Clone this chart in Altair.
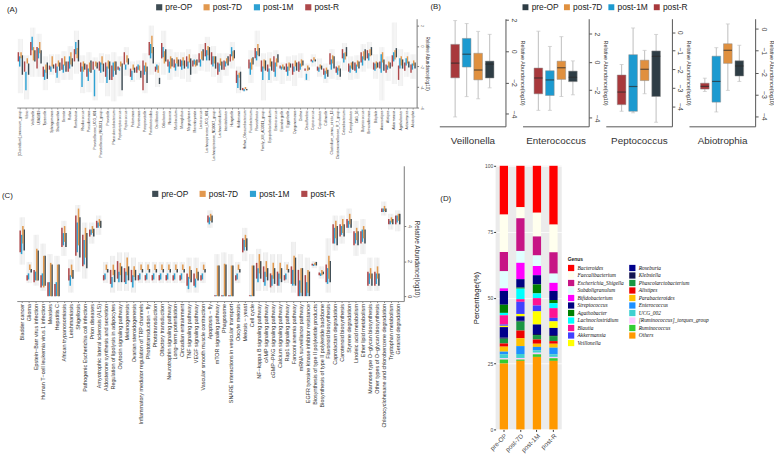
import altair as alt
import pandas as pd

GROUPS = ["pre-OP", "post-7D", "post-1M", "post-R"]
GROUP_COLORS = ["#2E3D45", "#E0903F", "#1C9AD0", "#A8393C"]
BOX_ORDER = ["post-R", "post-1M", "post-7D", "pre-OP"]

# ---------------- Panel A: genus level (log10 relative abundance) ----------------
A_GENERA = [
    "[Clostridium]_innocuum_group", "Vibrio", "Veillonella", "UBA1819", "Tyzzerella",
    "Sphingomonas", "Shuttleworthia", "Serratia", "Rothia", "Romboutsia",
    "Rhodococcus", "Pseudomonas", "Prevotellaceae_UCG_001", "Prevotellaceae_NK3B31_group", "Prevotella",
    "Phascolarctobacterium", "Peptostreptococcus", "Peptococcus", "Pelomonas", "Parvimonas",
    "Paraprevotella", "Parabacteroides", "Oscillibacter", "Odoribacter", "Neisseria",
    "Muribaculum", "Monoglobus", "Megasphaera", "Marvinbryantia", "Lactococcus",
    "Lachnospiraceae_UCG_001", "Lachnospiraceae_ND3007_group", "Lachnoclostridium", "Intestinibacter", "Hungatella",
    "Holdemania", "Hafnia_Obesumbacterium", "Fusobacterium", "Flavonifractor", "Family_XIII_AD3011_group",
    "Erysipelatoclostridium", "Enterococcus", "Eisenbergiella", "Eggerthella", "Dysgonomonas",
    "Dielma", "Desulfovibrio", "Coprococcus", "Coprobacter", "Collinsella",
    "Clostridium_sensu_stricto_13", "Christensenellaceae_R_7_group", "Catenibacterium", "Campylobacter", "CAG_56",
    "Butyricicoccus", "Brevundimonas", "Bilophila", "Anaerostipes", "Alistipes",
    "Akkermansia", "Agathobacter", "Actinomyces", "Abiotrophia",
]
A_POSTR_Q1 = [-1.5, -2.5, -0.9, -2.2, -3.0, -2.3, -2.6, -2.3, -2.5, -1.5,
              -2.5, -3.0, -2.3, -2.4, -3.0, -3.3, -2.3, -1.8, -3.0, -2.6,
              -4.3, -0.9, -2.5, -1.2, -2.0, -2.1, -2.0, -2.0, -2.0, -1.6,
              -1.0, -1.8, -2.8, -2.3, -1.5, -3.6, -4.3, -2.2, -1.2, -2.5,
              -2.5, -2.5, -2.2, -2.5, -2.8, -2.5, -2.4, -1.5, -2.4, -2.8,
              -1.8, -2.6, -1.2, -2.5, -2.4, -1.6, -1.2, -2.3, -2.2, -2.6,
              -2.0, -3.3, -2.4, -2.6]
A_POSTR_Q3 = [-0.6, -1.5, 0.4, -0.1, -2.0, -1.9, -1.7, -1.2, -1.5, -0.3,
              -1.6, -1.8, -1.5, -1.5, -1.6, -1.9, -2.0, -0.6, -2.2, -2.0,
              -1.4, 0.4, -2.0, 0.3, -1.3, -1.3, -1.3, -1.0, -1.4, -0.7,
              0.3, -0.6, -1.6, -1.4, -0.8, -2.4, -4.1, -1.3, -0.2, -1.4,
              -1.8, -1.0, -1.9, -1.7, -1.7, -1.5, -2.2, -1.3, -2.0, -2.2,
              -0.7, -2.0, -0.3, -1.7, -1.6, -0.6, -0.4, -1.6, -1.5, -1.8,
              -0.9, -1.9, -1.6, -1.8]
A_POST1M_Q1 = [-2.0, -4.3, -0.4, -1.2, -3.3, -2.5, -3.1, -2.6, -2.2, -0.8,
               -4.0, -3.4, -4.9, -2.6, -3.6, -3.0, -2.4, -2.3, -3.3, -2.3,
               -2.8, -1.2, -2.3, -1.1, -2.6, -2.4, -2.3, -2.2, -1.8, -2.0,
               -1.4, -2.0, -2.5, -2.0, -1.0, -4.1, -4.4, -2.8, -1.4, -3.3,
               -3.3, -3.0, -2.3, -2.9, -2.5, -2.3, -3.3, -1.6, -2.5, -3.2,
               -2.3, -2.8, -1.6, -2.6, -2.6, -1.9, -1.4, -2.4, -2.6, -2.3,
               -1.5, -2.2, -1.9, -2.3]
A_POST1M_Q3 = [-1.0, -2.5, 0.9, -0.2, -2.3, -2.0, -2.0, -1.8, -1.0, 0.4,
               -2.0, -2.2, -2.3, -1.6, -2.0, -1.6, -2.1, -1.8, -2.4, -1.8,
               -1.9, 0.2, -1.8, -0.1, -1.5, -1.7, -1.4, -1.5, -1.3, -1.3,
               -0.4, -1.0, -1.7, -1.5, -0.1, -2.8, -4.2, -1.6, -0.5, -2.0,
               -2.2, -1.6, -2.0, -2.0, -2.0, -1.7, -2.7, -1.4, -2.1, -2.4,
               -1.3, -2.1, -0.7, -1.9, -1.8, -1.0, -0.7, -1.7, -0.8, -1.9,
               -0.6, -1.2, -1.2, -1.7]
A_POST7D_Q1 = [-1.2, -1.7, -1.4, -0.7, -2.6, -2.0, -2.0, -1.9, -1.8, -1.2,
               -2.5, -2.5, -2.0, -1.8, -2.2, -2.4, -2.0, -1.6, -2.3, -2.4,
               -2.5, -0.7, -2.6, -1.7, -2.2, -1.7, -1.9, -1.6, -2.0, -1.3,
               -0.9, -1.7, -1.9, -1.7, -1.4, -3.1, -4.2, -2.3, -0.9, -2.2,
               -2.0, -2.0, -2.2, -2.4, -2.0, -2.0, -2.4, -1.4, -2.2, -2.7,
               -1.7, -2.4, -1.3, -2.2, -2.0, -1.3, -1.0, -2.2, -1.6, -2.1,
               -1.3, -1.9, -1.7, -1.9]
A_POST7D_Q3 = [-0.6, -1.2, -0.1, 0.4, -1.8, -1.0, -1.4, -1.0, -0.6, -0.2,
               -1.5, -1.6, -1.5, -1.0, -1.4, -1.5, -1.5, -0.9, -1.8, -1.9,
               -1.6, 1.0, -1.9, -0.5, -1.0, -1.1, -1.1, -0.8, -1.4, -0.5,
               0.0, -1.0, -1.2, -1.2, -0.5, -2.6, -4.0, -1.2, 0.2, -1.3,
               -1.2, -1.2, -1.8, -1.6, -1.4, -1.3, -1.9, -1.1, -1.8, -2.1,
               -0.9, -1.9, -0.6, -1.6, -1.4, -0.5, -0.3, -1.5, -0.6, -1.5,
               -0.4, -1.0, -1.0, -1.4]
A_PREOP_Q1 = [-2.8, -2.8, -1.5, -1.7, -3.2, -2.2, -2.4, -2.5, -2.0, -1.5,
              -2.3, -2.6, -2.2, -2.5, -3.3, -2.8, -4.3, -1.8, -2.6, -3.1,
              -3.6, -1.7, -3.7, -1.5, -2.0, -2.0, -2.2, -2.8, -1.9, -1.4,
              -1.4, -2.2, -2.3, -1.9, -1.2, -4.3, -4.3, -1.8, -1.0, -2.4,
              -2.4, -1.6, -2.3, -2.1, -2.4, -1.9, -2.3, -1.5, -2.3, -3.0,
              -2.2, -3.0, -1.0, -2.3, -2.2, -1.4, -0.9, -2.1, -2.4, -2.2,
              -1.1, -2.2, -2.1, -2.2]
A_PREOP_Q3 = [-0.9, -1.7, -0.4, -0.4, -1.6, -1.8, -1.6, -1.5, -1.2, 0.6,
              -1.7, -1.4, -1.6, -1.7, -1.5, -1.5, -1.7, -1.2, -2.1, -2.4,
              -2.0, -0.1, -3.1, -0.3, -1.2, -1.3, -1.4, -1.2, -1.3, -0.3,
              -0.1, -1.0, -1.5, -1.0, -0.4, -2.5, -4.2, -1.1, -0.2, -1.4,
              -1.5, -0.8, -2.0, -1.7, -1.6, -1.4, -2.1, -1.3, -1.9, -2.3,
              -1.0, -2.2, -0.1, -1.5, -1.5, -0.3, -0.1, -1.6, -1.3, -1.6,
              -0.2, -1.3, -1.5, -1.6]
A_LO = [-4.6, -5.2, -3.0, -3.0, -4.3, -2.8, -3.6, -3.3, -3.3, -2.7,
        -4.6, -4.5, -5.3, -3.6, -4.9, -5.4, -4.9, -2.9, -3.5, -3.3,
        -4.6, -2.8, -4.0, -2.8, -3.3, -3.0, -3.2, -3.5, -2.7, -2.4,
        -2.5, -3.0, -3.6, -2.9, -2.2, -4.6, -4.4, -3.6, -2.0, -5.3,
        -3.6, -3.4, -3.7, -3.4, -3.9, -3.1, -3.4, -2.0, -3.0, -3.6,
        -3.2, -3.3, -2.4, -3.3, -3.2, -2.5, -2.2, -3.2, -5.3, -3.4,
        -3.7, -3.9, -3.0, -3.2]
A_HI = [0.7, -0.9, 1.8, 1.2, -1.0, -0.8, -0.8, -0.5, 0.0, 1.5,
        -0.9, -0.6, -1.1, -0.7, -0.8, -0.6, -1.0, -0.1, -1.5, -1.4,
        -0.7, 2.0, -1.6, 1.5, -0.3, -0.6, -0.6, -0.3, -0.8, 0.2,
        0.9, 0.0, -0.7, -0.7, 0.4, -2.0, -4.0, -0.4, 1.5, -0.7,
        -0.6, -0.4, -1.6, -1.0, -0.9, -0.7, -1.7, -0.8, -1.2, -1.7,
        -0.3, -1.5, 0.3, -1.0, -0.9, 0.2, 0.4, -0.8, -0.1, -1.0,
        2.3, -0.3, -0.6, -0.8]

# ---------------- Panel B: four genera ----------------
B_GENERA = ["Veillonella", "Enterococcus", "Peptococcus", "Abiotrophia"]
B_DOMAINS = [[-4.8, 2.08], [-4.6, 3.08], [-5.08, 0.73], [-4.47, 0.47]]
B_TICKS = [[-4, -2, 0, 2], [-4, -2, 0, 2], [-4, -3, -2, -1, 0], [-4, -3, -2, -1, 0]]
B_LO = {"post-R": [-4.2, -3.46, -4.27, -2.87], "post-1M": [-2.9, -3.46, -4.35, -3.81],
        "post-7D": [-3.04, -2.47, -3.32, -2.82], "pre-OP": [-2.34, -2.35, -4.86, -2.41]}
B_Q1 = {"post-R": [-1.7, -2.28, -3.91, -2.76], "post-1M": [-1.01, -2.4, -4.27, -3.36],
        "post-7D": [-1.83, -1.25, -2.61, -1.58], "pre-OP": [-1.71, -1.41, -3.47, -2.16]}
B_MED = {"post-R": [-0.76, -1.15, -3.23, -2.64], "post-1M": [-0.19, -1.29, -2.93, -2.41],
         "post-7D": [-1.2, -0.42, -2.0, -0.98], "pre-OP": [-0.82, -1.1, -1.3, -1.7]}
B_Q3 = {"post-R": [0.44, -0.44, -2.31, -2.49], "post-1M": [0.82, -0.63, -1.21, -1.25],
        "post-7D": [-0.13, 0.05, -1.51, -0.68], "pre-OP": [-0.63, -0.66, -1.01, -1.46]}
B_HI = {"post-R": [1.96, 2.19, -1.74, -2.26], "post-1M": [1.77, 1.1, 0.23, -0.86],
        "post-7D": [1.27, 1.8, -0.98, 0.23], "pre-OP": [1.08, 0.07, -0.12, -0.75]}

# ---------------- Panel C: KEGG pathways ----------------
C_PATHS = [
    "Bladder cancer", "Glioma", "Epstein\u2212Barr virus infection",
    "Human T\u2212cell leukemia virus 1 infection", "Measles", "Hepatitis C",
    "African trypanosomiasis", "Leishmaniasis", "Shigellosis",
    "Pathogenic Escherichia coli infection", "Prion diseases",
    "Amyotrophic lateral sclerosis (ALS)", "Aldosterone synthesis and secretion",
    "Regulation of lipolysis in adipocytes", "Oxytocin signaling pathway", "Melanogenesis",
    "Ovarian steroidogenesis", "Inflammatory mediator regulation of TRP channels",
    "Phototransduction \u2212 fly", "Phototransduction", "Olfactory transduction",
    "Neurotrophin signaling pathway", "Long\u2212term potentiation", "Circadian entrainment",
    "TNF signaling pathway", "VEGF signaling pathway", "Vascular smooth muscle contraction",
    "Apoptosis \u2212 fly", "mTOR signaling pathway", "Phagosome",
    "SNARE interactions in vesicular transport", "Oocyte meiosis", "Meiosis \u2212 yeast",
    "Cell cycle", "NF\u2212kappa B signaling pathway", "cAMP signaling pathway",
    "cGMP\u2212PKG signaling pathway", "Calcium signaling pathway", "Rap1 signaling pathway",
    "Fanconi anemia pathway", "mRNA surveillance pathway",
    "EGFR tyrosine kinase inhibitor resistance", "Biosynthesis of type II polyketide products",
    "Biosynthesis of type II polyketide backbone", "Flavonoid biosynthesis",
    "Caprolactam degradation", "Carotenoid biosynthesis", "Styrene degradation",
    "Linoleic acid metabolism", "Ether lipid metabolism", "Mannose type O\u2212glycan biosynthesis",
    "Other types of O\u2212glycan biosynthesis", "Chlorocyclohexane and chlorobenzene degradation",
    "Tryptophan metabolism", "Geraniol degradation",
]
C_POSTR_Q1 = [2.5, 0.9, 0.8, 0.5, 0.0, 0.0, 2.8, 0.9, 2.3, 1.7,
              3.4, 3.9, 0.9, 0.7, 1.0, 0.8, 0.8, 0.9, 0.9, 0.9,
              0.9, 0.9, 0.9, 0.9, 0.6, 0.6, 0.9, 4.2, 0.0, 0.0,
              0.0, 0.9, 2.5, 0.0, 1.0, 0.8, 0.5, 0.6, 0.9, 0.7,
              0.0, 0.0, 1.75, 1.2, 0.8, 3.0, 3.4, 3.9, 2.9, 3.0,
              0.6, 0.6, 4.8, 4.1, 4.1]
C_POSTR_Q3 = [3.75, 1.2, 1.5, 1.2, 0.8, 0.7, 3.9, 1.6, 4.6, 3.5,
              3.8, 4.3, 1.2, 1.5, 2.0, 1.6, 1.5, 1.2, 1.2, 1.2,
              1.2, 1.2, 1.2, 1.2, 1.3, 1.3, 1.2, 4.6, 0.05, 0.05,
              0.05, 1.2, 3.3, 0.05, 1.9, 1.7, 1.3, 1.4, 1.2, 1.7,
              1.5, 1.2, 1.85, 1.35, 1.8, 4.1, 4.1, 4.4, 3.7, 3.7,
              1.4, 1.4, 5.0, 4.4, 4.6]
C_POST1M_Q1 = [2.4, 0.95, 0.9, 0.6, 0.0, 0.0, 2.9, 0.6, 2.5, 1.8,
               3.5, 3.9, 0.95, 0.5, 0.8, 0.7, 0.5, 0.95, 0.95, 0.95,
               0.95, 0.95, 0.95, 0.95, 0.4, 0.5, 0.95, 4.1, 0.0, 0.0,
               0.0, 0.95, 2.6, 0.0, 0.8, 0.6, 0.6, 0.6, 0.95, 0.6,
               0.0, 0.0, 1.72, 1.15, 0.7, 3.0, 3.5, 3.9, 3.0, 3.1,
               0.7, 0.7, 4.8, 4.1, 4.2]
C_POST1M_Q3 = [3.5, 1.3, 1.4, 1.3, 0.8, 0.8, 3.6, 1.2, 4.2, 3.2,
               3.8, 4.2, 1.3, 1.1, 1.4, 1.4, 1.2, 1.3, 1.3, 1.3,
               1.3, 1.3, 1.3, 1.3, 1.1, 1.0, 1.3, 4.5, 0.05, 0.05,
               0.05, 1.3, 3.2, 0.05, 1.6, 1.4, 1.2, 1.3, 1.3, 1.5,
               0.9, 0.8, 1.82, 1.3, 1.6, 3.9, 4.0, 4.3, 3.6, 3.8,
               1.3, 1.3, 5.0, 4.3, 4.6]
C_POST7D_Q1 = [3.0, 1.5, 0.9, 0.5, 0.0, 0.0, 3.1, 1.1, 2.9, 2.2,
               3.6, 4.0, 1.5, 1.2, 1.2, 1.2, 1.1, 1.5, 1.5, 1.5,
               1.5, 1.5, 1.5, 1.5, 1.0, 1.0, 1.5, 4.3, 0.0, 0.0,
               0.0, 1.5, 2.8, 0.0, 1.3, 1.1, 1.0, 1.0, 1.5, 0.7,
               0.2, 0.2, 1.78, 1.2, 1.0, 3.3, 3.6, 4.1, 3.2, 3.3,
               1.0, 1.0, 4.85, 4.2, 4.3]
C_POST7D_Q3 = [4.0, 1.8, 2.7, 2.3, 1.9, 1.8, 4.0, 1.8, 5.0, 3.9,
               4.0, 4.4, 1.8, 1.8, 1.9, 2.2, 1.7, 1.8, 1.8, 1.8,
               1.8, 1.8, 1.8, 1.8, 1.7, 1.6, 1.8, 4.7, 1.75, 1.85,
               1.75, 1.8, 3.5, 1.75, 2.4, 2.0, 1.9, 1.9, 1.8, 2.3,
               1.6, 1.5, 1.9, 1.5, 2.3, 4.3, 4.4, 4.7, 3.9, 4.0,
               1.6, 1.7, 5.15, 4.5, 4.7]
C_PREOP_Q1 = [2.6, 1.35, 0.9, 0.6, 0.0, 0.0, 2.8, 1.0, 2.2, 1.6,
              3.4, 3.9, 1.35, 0.8, 0.8, 0.9, 0.9, 1.35, 1.35, 1.35,
              1.35, 1.35, 1.35, 1.35, 0.8, 0.9, 1.35, 4.2, 0.0, 0.0,
              0.0, 1.35, 2.6, 0.0, 1.0, 0.9, 0.7, 0.8, 1.35, 0.6,
              0.0, 0.0, 1.75, 1.25, 0.8, 2.9, 3.4, 3.9, 2.9, 3.0,
              0.6, 0.6, 4.8, 4.1, 4.1]
C_PREOP_Q3 = [3.8, 1.55, 2.6, 2.3, 1.8, 1.8, 3.6, 1.5, 4.5, 3.6,
              3.85, 4.3, 1.55, 1.5, 1.7, 1.7, 1.5, 1.55, 1.55, 1.55,
              1.55, 1.55, 1.55, 1.55, 1.5, 1.4, 1.55, 4.6, 1.75, 1.8,
              1.75, 1.55, 3.3, 1.75, 2.0, 1.6, 1.6, 1.6, 1.55, 2.2,
              1.6, 1.4, 1.95, 1.4, 2.0, 4.0, 4.1, 4.4, 3.7, 3.8,
              1.3, 1.3, 5.0, 4.4, 4.7]
C_LO = [1.8, 0.75, 0.6, 0.3, 0.0, 0.0, 2.3, 0.2, 1.4, 1.0,
        3.0, 3.5, 0.75, 0.2, 0.3, 0.3, 0.2, 0.75, 0.75, 0.75,
        0.75, 0.75, 0.75, 0.75, 0.2, 0.2, 0.75, 3.9, 0.0, 0.0,
        0.0, 0.75, 2.0, 0.0, 0.3, 0.3, 0.2, 0.2, 0.75, 0.2,
        0.0, 0.0, 1.6, 1.0, 0.2, 2.6, 3.0, 3.6, 2.3, 2.4,
        0.3, 0.3, 4.6, 3.8, 3.7]
C_HI = [4.5, 1.95, 3.5, 3.0, 2.4, 2.3, 4.3, 2.1, 5.2, 4.2,
        4.2, 4.6, 1.95, 2.3, 2.5, 2.5, 2.2, 1.95, 1.95, 1.95,
        1.95, 1.95, 1.95, 1.95, 2.2, 2.2, 1.95, 4.9, 2.4, 2.5,
        2.4, 1.95, 3.9, 2.4, 2.7, 2.5, 2.4, 2.4, 1.95, 3.1,
        2.4, 2.2, 2.0, 1.7, 3.3, 4.6, 4.6, 5.0, 4.3, 4.4,
        2.2, 2.2, 5.4, 4.7, 4.9]

# ---------------- Panel D: genus composition (%) ----------------
D_SAMPLES = ["pre-OP", "post-7D", "post-1M", "post-R"]
D_GENUS = ["Bacteroides", "Faecalibacterium", "Escherichia_Shigella", "Subdoligranulum",
           "Bifidobacterium", "Streptococcus", "Agathobacter", "Lachnoclostridium", "Blautia",
           "Akkermansia", "Veillonella", "Roseburia", "Klebsiella", "Phascolarctobacterium",
           "Alistipes", "Parabacteroides", "Enterococcus", "UCG_002",
           "[Ruminococcus]_torques_group", "Ruminococcus", "Others"]
D_COLORS = ["#FF0000", "#FFFFEE", "#C71585", "#E0FFFF", "#FF00FF", "#000080", "#008000",
            "#00FFFF", "#FF1493", "#4040FF", "#FFFF00", "#00008B", "#141452", "#1A9641",
            "#EE0000", "#FFC000", "#1E90FF", "#40D0D0", "#FFCCFF", "#33CC33", "#FF9900"]
D_PREOP = [18.5, 14.2, 7.3, 6.5, 1.0, 5.2, 3.1, 0.9, 3.5, 0.5, 0.5, 4.0, 0.4, 1.8, 1.2, 1.9, 1.0, 1.5, 0.5, 1.5, 25.0]
D_POST7D = [15.7, 4.2, 12.4, 4.5, 6.2, 3.2, 0.4, 4.0, 1.0, 4.6, 0.9, 1.7, 0.3, 3.4, 2.9, 3.0, 3.0, 1.5, 0.6, 0.5, 26.0]
D_POST1M = [17.8, 9.0, 7.2, 4.0, 3.5, 3.5, 3.4, 1.8, 2.8, 2.2, 5.0, 3.6, 0.4, 1.7, 1.6, 1.2, 1.3, 0.9, 0.6, 1.0, 27.5]
D_POSTR = [22.3, 10.5, 8.1, 3.5, 3.1, 3.4, 1.2, 1.9, 3.7, 1.3, 2.5, 2.7, 0.4, 1.9, 1.0, 1.5, 2.5, 1.0, 0.5, 1.0, 26.0]

# ---------------- build tables ----------------
A_Q1 = {"post-R": A_POSTR_Q1, "post-1M": A_POST1M_Q1, "post-7D": A_POST7D_Q1, "pre-OP": A_PREOP_Q1}
A_Q3 = {"post-R": A_POSTR_Q3, "post-1M": A_POST1M_Q3, "post-7D": A_POST7D_Q3, "pre-OP": A_PREOP_Q3}
C_Q1 = {"post-R": C_POSTR_Q1, "post-1M": C_POST1M_Q1, "post-7D": C_POST7D_Q1, "pre-OP": C_PREOP_Q1}
C_Q3 = {"post-R": C_POSTR_Q3, "post-1M": C_POST1M_Q3, "post-7D": C_POST7D_Q3, "pre-OP": C_PREOP_Q3}


def long_table(names, q1, q3, lo, hi):
    rows = []
    for i, n in enumerate(names):
        for g in GROUPS:
            rows.append({"item": n, "group": g, "q1": q1[g][i], "q3": q3[g][i],
                         "lo": lo[i], "hi": hi[i]})
    return pd.DataFrame(rows)


dfA = long_table(A_GENERA, A_Q1, A_Q3, A_LO, A_HI)
dfC = long_table(C_PATHS, C_Q1, C_Q3, C_LO, C_HI)

rowsB = []
for k, gname in enumerate(B_GENERA):
    for g in GROUPS:
        rowsB.append({"genus": gname, "group": g, "lo": B_LO[g][k], "q1": B_Q1[g][k],
                      "med": B_MED[g][k], "q3": B_Q3[g][k], "hi": B_HI[g][k]})
dfB = pd.DataFrame(rowsB)

D_VALUES = {"pre-OP": D_PREOP, "post-7D": D_POST7D, "post-1M": D_POST1M, "post-R": D_POSTR}
rowsD = []
for s in D_SAMPLES:
    for i, gname in enumerate(D_GENUS):
        rowsD.append({"sample": s, "genus": gname, "pct": D_VALUES[s][i],
                      "rank": len(D_GENUS) - 1 - i})
dfD = pd.DataFrame(rowsD)

COLOR_SCALE = alt.Scale(domain=GROUPS, range=GROUP_COLORS)


def group_legend(title, lx, ly, tpad, sym_size=36, sym_stroke=0):
    return alt.Legend(orient="none", legendX=lx, legendY=ly, direction="horizontal",
                      title=title, titleOrient="left", titlePadding=tpad, titleFontSize=8,
                      titleFontWeight="normal", titleColor="#222", labelFontSize=8.5,
                      labelColor="#222", symbolType="square", symbolSize=sym_size,
                      symbolStrokeWidth=sym_stroke, columnPadding=4, labelOffset=2)


def multi_box(df, names, width, height, ydom, yticks, label_font, pad_outer,
              ylab_font, ytitle_font, box_w, whisk_w, legend, title_y=None):
    xaxis = alt.Axis(labelAngle=270, labelFontSize=label_font, labelColor="#333",
                     labelPadding=1, tickSize=1.5, tickColor="#888", domainColor="#888",
                     labelLimit=400)
    yaxis_kw = dict(orient="right", values=yticks, labelAngle=90, labelFontSize=ylab_font,
                    labelPadding=1, tickSize=2, title="Relative Abundance(log10)",
                    titleFontSize=ytitle_font, titlePadding=1.5, titleFontWeight="normal",
                    domainColor="#777", tickColor="#777", labelColor="#444",
                    titleColor="#333", grid=False)
    if title_y is not None:
        yaxis_kw["titleY"] = title_y
    yaxis = alt.Axis(**yaxis_kw)
    yscale = alt.Scale(domain=ydom, nice=False, zero=False)

    def Y(f):
        return alt.Y(f, scale=yscale, axis=yaxis, title="Relative Abundance(log10)")

    x = alt.X("item:N", sort=names, title=None,
              scale=alt.Scale(paddingInner=0.15, paddingOuter=pad_outer), axis=xaxis)
    xo = alt.XOffset("group:N", sort=BOX_ORDER, scale=alt.Scale(paddingInner=0.05))
    whisk = alt.Chart(df).mark_rule(color="#dadada", strokeWidth=whisk_w).encode(
        x=x, xOffset=xo, y=Y("lo:Q"), y2="hi:Q")
    boxes = alt.Chart(df).mark_rule(strokeWidth=box_w, strokeCap="butt", opacity=0.92).encode(
        x=x, xOffset=xo, y=Y("q1:Q"), y2="q3:Q",
        color=alt.Color("group:N", scale=COLOR_SCALE, legend=legend))
    return alt.layer(whisk, boxes).properties(width=width, height=height)


chartA = multi_box(dfA, A_GENERA, 405, 90, [-6, 2.67], [2, 0, -2, -4, -6], 3.4, 0.15,
                   3.6, 4.6, 1.45, 0.45, group_legend("(A)", -10, -16, 139, 4, 4.2))
chartC = multi_box(dfC, C_PATHS, 392, 137, [-0.28, 7.44], [0, 2, 4], 5.5, 0.4,
                   5.5, 6.5, 1.55, 0.55, group_legend("(C)", -15, 24, 139, 4, 4.2), title_y=94)


def b_panel(k):
    d = dfB[dfB.genus == B_GENERA[k]]
    x = alt.X("group:N", sort=BOX_ORDER, title=B_GENERA[k],
              scale=alt.Scale(paddingInner=0.25, paddingOuter=1.0),
              axis=alt.Axis(labels=False, ticks=False, title=B_GENERA[k], titleFontSize=10,
                            titleFontWeight="normal", titleColor="#333", titlePadding=9,
                            domainColor="#555"))
    yscale = alt.Scale(domain=B_DOMAINS[k], nice=False, zero=False)
    yaxis = alt.Axis(orient="right", values=B_TICKS[k], labelAngle=90, labelFontSize=7,
                     labelPadding=2, tickSize=3, title="Relative Abundance(log10)",
                     titleFontSize=5.5, titleFontWeight="normal", titlePadding=2,
                     domainColor="#555", tickColor="#555", labelColor="#444",
                     titleColor="#333", grid=False)

    def Y(f):
        return alt.Y(f, scale=yscale, axis=yaxis, title="Relative Abundance(log10)")

    base = alt.Chart(d).encode(x=x)
    whisk = base.mark_rule(color="#c4c4c4", strokeWidth=1.1).encode(y=Y("lo:Q"), y2="hi:Q")
    cap_lo = base.mark_tick(orient="horizontal", color="#c4c4c4", size=4, thickness=1).encode(y=Y("lo:Q"))
    cap_hi = base.mark_tick(orient="horizontal", color="#c4c4c4", size=4, thickness=1).encode(y=Y("hi:Q"))
    leg = group_legend("(B)", -9, -16, 81) if k == 0 else None
    box = base.mark_bar(stroke="#8c8c8c", strokeWidth=0.5).encode(
        y=Y("q1:Q"), y2="q3:Q",
        color=alt.Color("group:N", scale=COLOR_SCALE, legend=leg))
    med = base.mark_tick(orient="horizontal", color="#2b2b2b", size=8.5, thickness=1.2).encode(y=Y("med:Q"))
    return alt.layer(whisk, cap_lo, cap_hi, box, med).properties(width=67, height=109)


chartB = alt.hconcat(*[b_panel(k) for k in range(4)], spacing=17.3,
                     bounds="flush").resolve_scale(color="independent", y="independent")

chartD = alt.Chart(dfD).mark_bar().encode(
    x=alt.X("sample:N", sort=D_SAMPLES, title=None,
            scale=alt.Scale(paddingInner=0.5, paddingOuter=0.25),
            axis=alt.Axis(labelAngle=-45, labelFontSize=6.5, labelColor="#4d4d4d",
                          tickColor="#333", tickSize=2, domain=False, labelPadding=1,
                          grid=False)),
    y=alt.Y("pct:Q", stack="zero", scale=alt.Scale(domain=[0, 100], nice=False),
            axis=alt.Axis(title="Percentage(%)", values=[0, 25, 50, 75, 100], labelFontSize=5,
                          labelColor="#4d4d4d", labelPadding=1, tickSize=2, tickColor="#333",
                          domain=False, grid=True, gridColor="white", gridWidth=0.8,
                          titleFontSize=8, titleFontWeight="normal", titleColor="#111",
                          titlePadding=4)),
    color=alt.Color("genus:N", scale=alt.Scale(domain=D_GENUS, range=D_COLORS),
                    legend=alt.Legend(orient="none", legendX=73, legendY=92, title="Genus",
                                      titleFontSize=5, titleFontWeight="bold", titleColor="#222",
                                      titlePadding=3, labelFont="Liberation Serif",
                                      labelFontStyle="italic", labelFontSize=5.5,
                                      labelColor="#111", symbolType="square", symbolSize=40,
                                      symbolStrokeWidth=0, columns=2, columnPadding=4,
                                      rowPadding=0.6, labelOffset=3, direction="vertical")),
    order=alt.Order("rank:Q", sort="ascending"),
).properties(
    width=67, height=267,
    view=alt.ViewBackground(fill="#EBEBEB", stroke=None),
    title=alt.TitleParams("(D)", orient="top", anchor="start", frame="group", fontSize=8,
                          fontWeight="normal", color="#222", dx=-56, dy=44),
)

row1 = alt.hconcat(chartA, chartB, spacing=0).resolve_scale(color="independent")
row2 = alt.hconcat(chartC, chartD, spacing=21).resolve_scale(color="independent")

chart = alt.vconcat(row1, row2, spacing=3).resolve_scale(color="independent").properties(
    padding={"left": 2, "top": 0, "right": 0, "bottom": 0}
).configure(font="Liberation Sans").configure_view(stroke=None).configure_axis(grid=False)

chart.save("out.html", embed_options={"renderer": "svg", "actions": False})
